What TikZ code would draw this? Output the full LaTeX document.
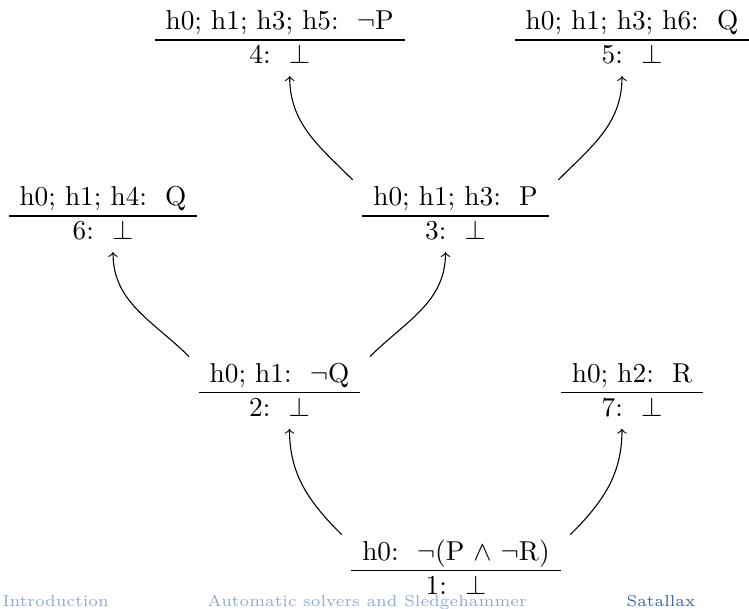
\documentclass[tikz,border=0pt]{standalone}
\usetikzlibrary{calc}
\definecolor{footFaded}{HTML}{8EABD0}
\definecolor{footActive}{HTML}{35649E}
\newcommand{\seqt}[2]{\begin{tabular}{@{\hspace{4pt}}c@{\hspace{4pt}}}#1\\\hline #2\end{tabular}}

\begin{document}
\begin{tikzpicture}[x=0.366pt, y=-0.366pt,
    goal/.style={inner xsep=0.3333em, inner ysep=0.8pt},
    ar/.style={->},
    foot/.style={anchor=base west, inner sep=0pt, font=\fontsize{5.8}{7}\selectfont}]
    \useasboundingbox (0,0) rectangle (749,608);
    \node[goal] (n4) at (279.7,40) {\seqt{h0; h1; h3; h5:\ \ $\neg$P}{4:\ \ $\bot$}};
    \node[goal] (n5) at (632,40) {\seqt{h0; h1; h3; h6:\ \ Q}{5:\ \ $\bot$}};
    \node[goal] (n6) at (103,216) {\seqt{h0; h1; h4:\ \ Q}{6:\ \ $\bot$}};
    \node[goal] (n3) at (455.5,216) {\seqt{h0; h1; h3:\ \ P}{3:\ \ $\bot$}};
    \node[goal] (n2) at (279.5,392.7) {\seqt{h0; h1:\ \ $\neg$Q}{2:\ \ $\bot$}};
    \node[goal] (n7) at (632,392.7) {\seqt{h0; h2:\ \ R}{7:\ \ $\bot$}};
    \node[goal] (n1) at (456,570.7) {\seqt{h0:\ \ $\neg$(P $\wedge$ $\neg$R)}{1:\ \ $\bot$}};
    \draw[ar] (n1.north west) to[out=135, in=-90] ($(n2.south)+(10,0)$);
    \draw[ar] (n1.north east) to[out=45, in=-90] ($(n7.south)+(-10,0)$);
    \draw[ar] (n2.north west) to[out=135, in=-90] ($(n6.south)+(10,0)$);
    \draw[ar] (n2.north east) to[out=45, in=-90] ($(n3.south)+(-10,0)$);
    \draw[ar] (n3.north west) to[out=135, in=-90] ($(n4.south)+(10,0)$);
    \draw[ar] (n3.north east) to[out=45, in=-90] ($(n5.south)+(-10,0)$);
    % footline
    \node[foot, text=footFaded] (f1) at (2,606) {Introduction};
    \node[foot, text=footFaded] (f2) at (207,606) {Automatic solvers and Sledgehammer};
    \node[foot, text=footActive] (f3) at (626,606) {Satallax};
\end{tikzpicture}
\end{document}
